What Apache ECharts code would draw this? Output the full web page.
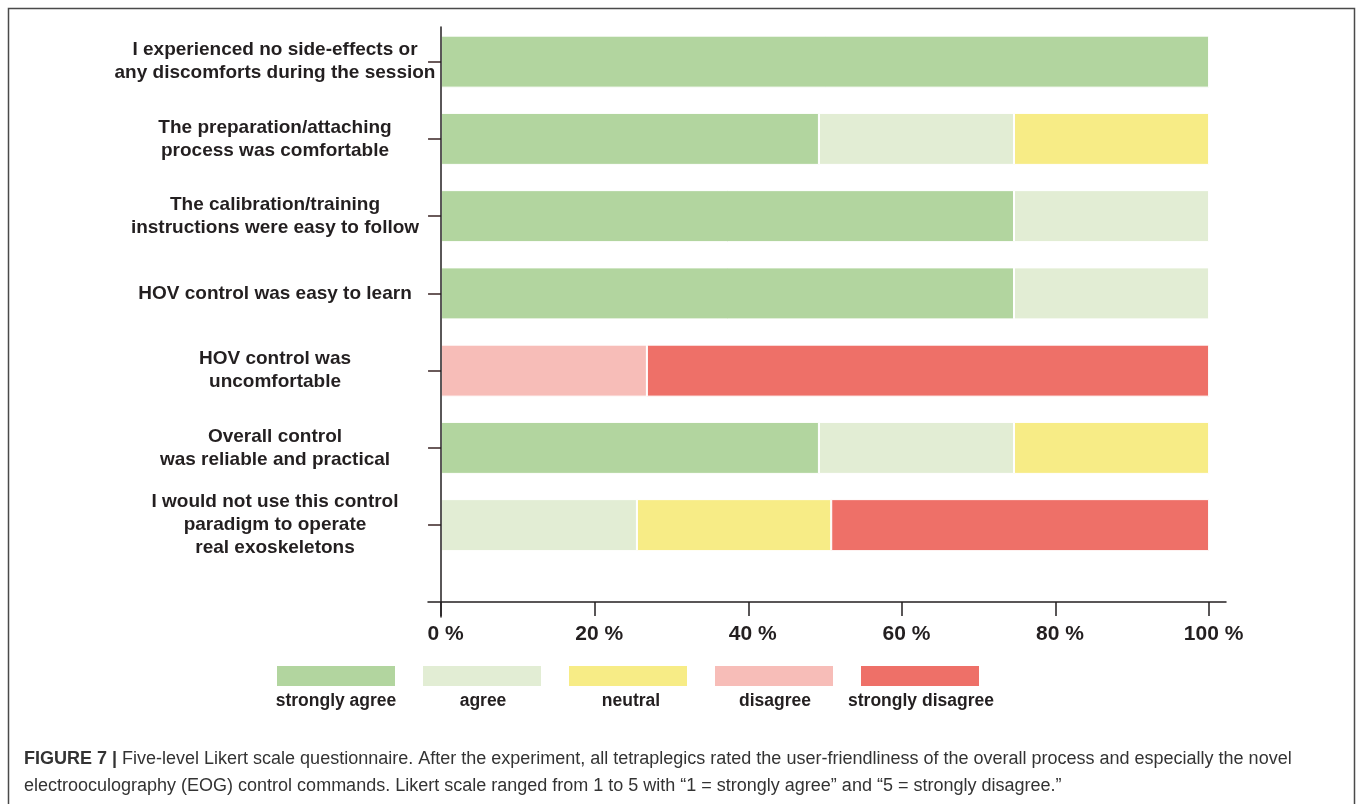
<!DOCTYPE html>
<html>
<head>
<meta charset="utf-8">
<script src="https://cdn.jsdelivr.net/npm/echarts@6/dist/echarts.min.js"></script>
<style>
html,body{margin:0;padding:0;background:#fff;}
#c{width:1357px;height:804px;}
</style>
</head>
<body>
<div id="c"></div>
<script>
// ---- data ----
const categories = [
  'I experienced no side-effects or\nany discomforts during the session',
  'The preparation/attaching\nprocess was comfortable',
  'The calibration/training\ninstructions were easy to follow',
  'HOV control was easy to learn',
  'HOV control was\nuncomfortable',
  'Overall control\nwas reliable and practical',
  'I would not use this control\nparadigm to operate\nreal exoskeletons',
  ''
];
const levelNames = ['strongly agree', 'agree', 'neutral', 'disagree', 'strongly disagree'];
const levelColors = ['#b2d59f', '#e2edd4', '#f7ec86', '#f7bdb8', '#ee7068'];
const stronglyAgree    = [100, 49.2, 74.6, 74.6, '-', 49.2, '-'];
const agree            = ['-', 25.4, 25.4, 25.4, '-', 25.4, 25.5];
const neutral          = ['-', 25.4, '-', '-', '-', 25.4, 25.3];
const disagree         = ['-', '-', '-', '-', 26.8, '-', '-'];
const stronglyDisagree = ['-', '-', '-', '-', 73.2, '-', 49.2];
const tickValues = [0, 20, 40, 60, 80, 100];
const captionBold = 'FIGURE 7 |';
const captionLine1 = ' Five-level Likert scale questionnaire. After the experiment, all tetraplegics rated the user-friendliness of the overall process and especially the novel';
const captionLine2 = 'electrooculography (EOG) control commands. Likert scale ranged from 1 to 5 with \u201c1 = strongly agree\u201d and \u201c5 = strongly disagree.\u201d';

const seriesValues = [stronglyAgree, agree, neutral, disagree, stronglyDisagree];
const ink = '#231f20';
const FONT = '"Liberation Sans", Arial, Helvetica, sans-serif';

const chart = echarts.init(document.getElementById('c'), null, {renderer: 'canvas'});

const legendCenters = [336, 483, 631, 775, 921];

const option = {
  animation: false,
  backgroundColor: '#ffffff',
  title: {
    left: 24,
    top: 746,
    padding: 0,
    text: '{b|' + captionBold + '}' + captionLine1 + '\n' + captionLine2,
    textStyle: {
      fontFamily: FONT,
      fontSize: 18,
      fontWeight: 'normal',
      color: '#333333',
      lineHeight: 27,
      rich: {
        b: {fontFamily: FONT, fontSize: 18, fontWeight: 'bold', color: '#333333', lineHeight: 27}
      }
    }
  },
  legend: {
    left: 277,
    top: 666,
    padding: 0,
    itemWidth: 118,
    itemHeight: 20,
    itemGap: 28,
    icon: 'rect',
    selectedMode: false,
    formatter: function () { return ''; },
    itemStyle: {borderWidth: 0},
    data: levelNames
  },
  graphic: [
    {
      type: 'rect',
      silent: true,
      z: 100,
      shape: {x: 8.5, y: 8.5, width: 1346, height: 830},
      style: {fill: 'none', stroke: '#4a4a4a', lineWidth: 1.5}
    }
  ].concat(levelNames.map(function (n, i) {
    return {
      type: 'text',
      x: legendCenters[i],
      y: 701,
      silent: true,
      style: {
        text: n,
        align: 'center',
        verticalAlign: 'middle',
        fontFamily: FONT,
        fontSize: 17.5,
        fontWeight: 'bold',
        fill: ink
      }
    };
  })),
  grid: [
    {
      left: 428,
      right: 131,
      top: 23,
      height: 618,
      containLabel: false,
      outerBoundsMode: 'none'
    },
    {
      left: 441,
      width: 1,
      top: 27,
      height: 590,
      containLabel: false,
      outerBoundsMode: 'none'
    }
  ],
  xAxis: [
    {
      type: 'value',
      gridIndex: 0,
      min: -1.7,
      max: 102.2,
      offset: -39,
      axisLine: {show: true, onZero: false, lineStyle: {color: ink, width: 1.5}},
      axisTick: {show: true, length: 14, customValues: tickValues, lineStyle: {color: ink, width: 1.5}},
      axisLabel: {
        customValues: tickValues,
        formatter: '{value} %',
        margin: 22,
        padding: [0, 0, 0, 9],
        fontFamily: FONT,
        fontSize: 21,
        fontWeight: 'bold',
        color: ink
      },
      splitLine: {show: false}
    },
    {
      type: 'value',
      gridIndex: 1,
      show: false
    }
  ],
  yAxis: [
    {
      type: 'category',
      gridIndex: 0,
      inverse: true,
      data: categories,
      z: 5,
      axisLine: {show: true, onZero: true, lineStyle: {color: ink, width: 1.5, opacity: 0}},
      axisTick: {show: true, alignWithLabel: true, length: 13, lineStyle: {color: '#3a2424', width: 1.5},
        interval: function (i) { return i < 7; }},
      axisLabel: {
        margin: 153,
        align: 'center',
        fontFamily: FONT,
        fontSize: 19,
        fontWeight: 'bold',
        lineHeight: 23,
        color: ink
      },
      splitLine: {show: false}
    },
    {
      type: 'value',
      gridIndex: 1,
      position: 'left',
      z: 6,
      axisLine: {show: true, onZero: false, lineStyle: {color: ink, width: 1.5}},
      axisTick: {show: false},
      axisLabel: {show: false},
      splitLine: {show: false}
    }
  ],
  series: levelNames.map(function (n, i) {
    return {
      name: n,
      type: 'bar',
      stack: 'likert',
      barWidth: 52,
      xAxisIndex: 0,
      yAxisIndex: 0,
      data: seriesValues[i],
      itemStyle: {color: levelColors[i], borderColor: '#ffffff', borderWidth: 1},
      emphasis: {disabled: true}
    };
  })
};
chart.setOption(option);
</script>
</body>
</html>
